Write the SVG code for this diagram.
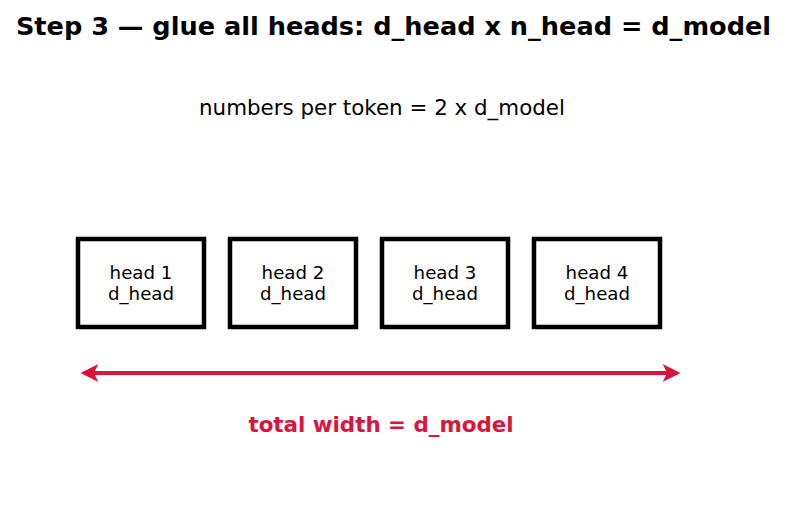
<svg xmlns="http://www.w3.org/2000/svg" width="787" height="512" viewBox="0 0 787 512">
<style>
text{font-family:"DejaVu Sans",sans-serif;text-anchor:middle}
.title{font-size:25.6px;font-weight:bold;fill:#000}
.sub{font-size:21.4px;fill:#000}
.box{fill:#fff;stroke:#000;stroke-width:4.5}
.lbl{font-size:18.2px;fill:#000}
.tot{font-size:21.4px;font-weight:bold;fill:#dc143c}
</style>
<defs>
<marker id="ah" viewBox="0 0 10 10" refX="8" refY="5" markerWidth="4.5" markerHeight="4.5" orient="auto-start-reverse" markerUnits="strokeWidth">
<path d="M0,0 L10,5 L0,10 L2.5,5 Z" fill="#dc143c"/>
</marker>
</defs>
<rect width="787" height="512" fill="#fff"/>
<text class="title" x="393.5" y="35">Step 3 — glue all heads: d_head x n_head = d_model</text>
<text class="sub" x="382" y="115">numbers per token = 2 x d_model</text>
<g id="head1"><rect class="box" x="78" y="239" width="126" height="88"/><text class="lbl" x="141" y="279">head 1</text><text class="lbl" x="141" y="300">d_head</text></g>
<g id="head2"><rect class="box" x="230" y="239" width="126" height="88"/><text class="lbl" x="293" y="279">head 2</text><text class="lbl" x="293" y="300">d_head</text></g>
<g id="head3"><rect class="box" x="382" y="239" width="126" height="88"/><text class="lbl" x="445" y="279">head 3</text><text class="lbl" x="445" y="300">d_head</text></g>
<g id="head4"><rect class="box" x="534" y="239" width="126" height="88"/><text class="lbl" x="597" y="279">head 4</text><text class="lbl" x="597" y="300">d_head</text></g>
<g id="connectors">
<line x1="84" y1="373" x2="677" y2="373" stroke="#dc143c" stroke-width="4" marker-start="url(#ah)" marker-end="url(#ah)"/>
</g>
<text class="tot" x="381" y="432">total width = d_model</text>
</svg>
